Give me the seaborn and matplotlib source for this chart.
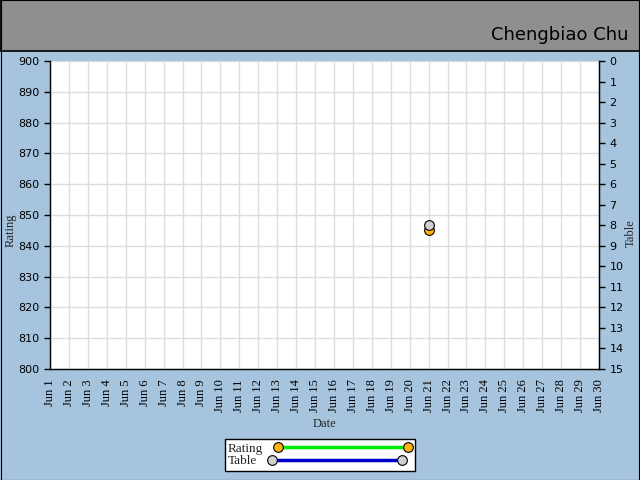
import seaborn as sns
import matplotlib.pyplot as plt
import matplotlib.patches as mpatches
from matplotlib.lines import Line2D
import pandas as pd
import numpy as np

# chart values
days = list(range(1, 31))
day_labels = ['Jun %d' % d for d in days]
game_days = [21]
rating = [845]
table = [8]

BG = '#a6c4de'
HEADER = '#8f8f8f'
ORANGE = '#ffb30f'
GRAYPT = '#cfcfcf'

sns.set_style('white')
plt.rcParams['font.family'] = ['DejaVu Sans']

fig = plt.figure(figsize=(6.4, 4.8), dpi=100)
fig.patch.set_facecolor(BG)

# header band + outer border
fig.patches.append(mpatches.Rectangle((0, 1 - 51 / 480), 1, 51 / 480, transform=fig.transFigure,
                                      facecolor=HEADER, edgecolor='black', lw=1.2, zorder=0))
fig.patches.append(mpatches.Rectangle((0.0008, 0.001), 0.9984, 0.998, transform=fig.transFigure,
                                      facecolor='none', edgecolor='black', lw=0.8, zorder=0))
fig.text(0.982, 1 - 35 / 480, 'Chengbiao Chu', ha='right', va='center', fontsize=13,
         family=['DejaVu Sans'], color='black')

ax = fig.add_axes([50 / 640, 1 - 369 / 480, 549 / 640, 308 / 480])
ax.set_facecolor('white')

df_r = pd.DataFrame({'day': game_days, 'rating': rating})
df_t = pd.DataFrame({'day': game_days, 'table': table})

sns.lineplot(data=df_r, x='day', y='rating', ax=ax, color='#00dd00', lw=2,
             marker='o', markersize=7, markerfacecolor=ORANGE, markeredgecolor='black',
             markeredgewidth=0.8, zorder=5)
ax.set_xlim(1, 30)
ax.set_ylim(800, 900)
ax.set_xticks(days)
ax.set_xticklabels(day_labels, rotation=90, family=['Liberation Serif'], fontsize=9)
ax.set_yticks(np.arange(800, 901, 10))
ax.tick_params(axis='both', direction='out', length=4, width=1, labelsize=8, colors='black')
ax.tick_params(axis='x', labelsize=9)
ax.grid(True, color='#dddddd', lw=1)
ax.set_axisbelow(True)
ax.set_xlabel('Date', family=['Liberation Serif'], fontsize=9, labelpad=4)
ax.set_ylabel('Rating', family=['Liberation Serif'], fontsize=9)
ax.yaxis.set_label_coords(-0.06, 0.45)
for s in ['left', 'bottom', 'right']:
    ax.spines[s].set_color('black')
    ax.spines[s].set_linewidth(1)
ax.spines['top'].set_visible(False)

ax2 = ax.twinx()
sns.lineplot(data=df_t, x='day', y='table', ax=ax2, color='#0000dd', lw=2,
             marker='o', markersize=7, markerfacecolor=GRAYPT, markeredgecolor='black',
             markeredgewidth=0.8, zorder=6)
ax2.set_ylim(15, 0)
ax2.set_yticks(range(0, 16))
ax2.tick_params(axis='y', direction='out', length=4, width=1, labelsize=8, colors='black')
ax2.set_ylabel('Table', family=['Liberation Serif'], fontsize=9)
ax2.yaxis.set_label_coords(1.046, 0.44)
ax2.grid(False)
for s in ax2.spines.values():
    s.set_visible(False)
ax2.spines['right'].set_visible(True)
ax2.spines['right'].set_color('black')

handles = [
    Line2D([0, 1], [0, 0], color='#00ee00', lw=2.5, marker='o', markersize=7,
           markerfacecolor=ORANGE, markeredgecolor='black', markeredgewidth=0.8),
    Line2D([0, 1], [0, 0], color='#0000cc', lw=2.5, marker='o', markersize=7,
           markerfacecolor=GRAYPT, markeredgecolor='black', markeredgewidth=0.8),
]
leg = fig.legend(handles, ['Rating', 'Table'], loc='center', bbox_to_anchor=(320 / 640, 1 - 455 / 480),
                 numpoints=2, handlelength=10.5, handletextpad=0.8, labelspacing=0.0,
                 frameon=True, fancybox=False, borderpad=0.25, borderaxespad=0,
                 prop={'family': 'Liberation Serif', 'size': 9.5}, markerfirst=False)
for col in leg._legend_handle_box.get_children():
    col.align = 'left'
leg.get_frame().set_edgecolor('black')
leg.get_frame().set_facecolor('white')
leg.get_frame().set_linewidth(1)
leg.get_frame().set_alpha(1)

fig.savefig('out.png', dpi=100, facecolor=fig.get_facecolor())
